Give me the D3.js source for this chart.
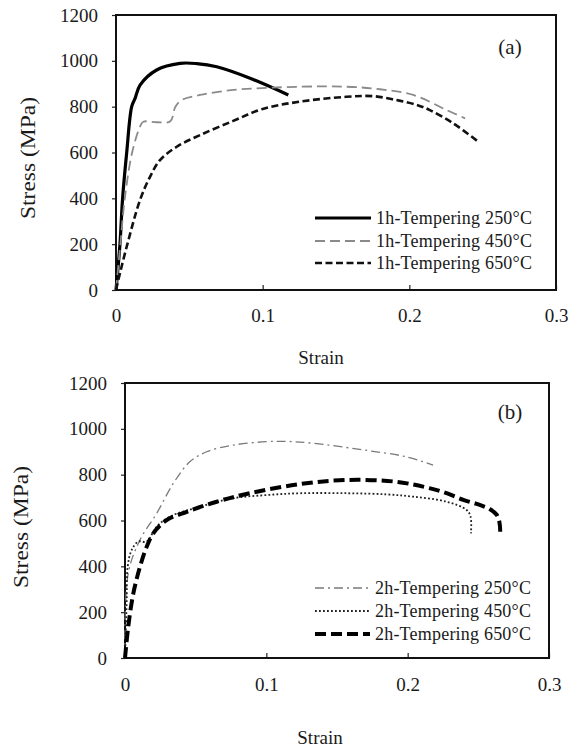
<!DOCTYPE html>
<html>
<head>
<meta charset="utf-8">
<script src="https://cdn.jsdelivr.net/npm/d3@7"></script>
<style>
  html, body { margin: 0; padding: 0; background: #fff; }
  svg { display: block; }
  text { font-family: "Liberation Serif", "Times New Roman", serif; fill: #1a1a1a; }
</style>
</head>
<body>
<svg id="chart" width="569" height="749"></svg>
<script>
// ---------- DATA ----------
const xTicks = [0, 0.1, 0.2, 0.3];
const yTicks = [0, 200, 400, 600, 800, 1000, 1200];

// Panel (a): 1h tempering
const strainA250 = [0, 0.0027, 0.0045, 0.0073, 0.0107, 0.013, 0.0164, 0.0277, 0.0436, 0.055, 0.0687, 0.0914, 0.1175];
const stressA250 = [0, 200, 400, 600, 800, 836, 894, 960, 989, 988, 974, 924, 851];

const strainA450 = [0, 0.003, 0.006, 0.011, 0.0164, 0.0186, 0.028, 0.037, 0.0405, 0.0448, 0.0573, 0.080, 0.1255, 0.157, 0.18, 0.2027, 0.2255, 0.238];
const stressA450 = [0, 200, 400, 600, 713, 734, 732, 736, 800, 829, 851, 873, 887, 887, 876, 851, 785, 749];

const strainA650 = [0, 0.0016, 0.0073, 0.0164, 0.0232, 0.030, 0.0414, 0.0573, 0.080, 0.1, 0.1255, 0.157, 0.175, 0.191, 0.205, 0.214, 0.23, 0.247];
const stressA650 = [0, 44, 189, 393, 494, 567, 625, 676, 738, 790, 822, 843, 846, 829, 808, 785, 727, 647];

const labelsA = ["1h-Tempering 250\u00B0C", "1h-Tempering 450\u00B0C", "1h-Tempering 650\u00B0C"];

// Panel (b): 2h tempering
const strainB250 = [0, 0.0023, 0.0106, 0.0224, 0.0342, 0.046, 0.0578, 0.0766, 0.1, 0.115, 0.133, 0.1686, 0.199, 0.218];
const stressB250 = [0, 370, 515, 631, 762, 857, 900, 929, 944, 945, 937, 908, 878, 842];

const strainB450 = [0, 0.0005, 0.0012, 0.0019, 0.0047, 0.0094, 0.0153, 0.0224, 0.0318, 0.053, 0.0766, 0.1, 0.124, 0.157, 0.185, 0.204, 0.2276, 0.2417, 0.2445, 0.2448];
const stressB450 = [0, 100, 250, 398, 471, 508, 508, 573, 617, 660, 697, 711, 719, 719, 714, 704, 682, 646, 617, 544];

const strainB650 = [0, 0.0023, 0.0059, 0.0106, 0.0154, 0.02, 0.0295, 0.0437, 0.0649, 0.0884, 0.124, 0.157, 0.192, 0.216, 0.228, 0.2394, 0.25, 0.258, 0.263, 0.265, 0.2655];
const stressB650 = [0, 137, 282, 398, 486, 544, 602, 638, 682, 719, 759, 777, 769, 740, 718, 690, 670, 650, 625, 590, 551];

const labelsB = ["2h-Tempering 250\u00B0C", "2h-Tempering 450\u00B0C", "2h-Tempering 650\u00B0C"];

// ---------- DRAW ----------
const svg = d3.select("#chart");
const SERIF = "'Liberation Serif', 'Times New Roman', serif";

function zip(xs, ys) { return xs.map((x, i) => [x, ys[i]]); }

function drawPanel(p) {
  const g = svg.append("g");
  const x = d3.scaleLinear().domain([0, 0.3]).range([p.left, p.right]);
  const y = d3.scaleLinear().domain([0, 1200]).range([p.bottom, p.top]);

  // y axis ticks (outside) + labels
  const yAxis = d3.axisLeft(y).tickValues(yTicks).tickSize(4).tickPadding(14).tickFormat(d3.format("d"));
  const ya = g.append("g").attr("transform", `translate(${p.left},0)`).call(yAxis);
  ya.attr("font-family", SERIF);
  ya.select(".domain").remove();
  ya.selectAll("line").attr("stroke", "#222").attr("stroke-width", 1.2);
  ya.selectAll("text").style("font-size", "19px").style("font-family", SERIF).attr("fill", "#1a1a1a");

  // x axis ticks (inside) + labels
  const xAxis = d3.axisBottom(x).tickValues(xTicks).tickSizeInner(-5).tickSizeOuter(0).tickPadding(0).tickFormat(d => d === 0 ? "0" : d3.format(".1f")(d));
  const xa = g.append("g").attr("transform", `translate(0,${p.bottom})`).call(xAxis);
  xa.attr("font-family", SERIF);
  xa.select(".domain").remove();
  xa.selectAll("line").attr("stroke", "#222").attr("stroke-width", 1.2);
  xa.selectAll("text").style("font-size", "19px").style("font-family", SERIF).attr("fill", "#1a1a1a")
    .attr("y", p.xLabelY - p.bottom).attr("dy", "0.35em");

  // frame
  g.append("rect").attr("x", p.left).attr("y", p.top)
    .attr("width", p.right - p.left).attr("height", p.bottom - p.top)
    .attr("fill", "none").attr("stroke", "#111").attr("stroke-width", 2);

  // curves
  const line = d3.line().x(d => x(d[0])).y(d => y(d[1])).curve(d3.curveCatmullRom.alpha(0.5));
  p.series.forEach(s => {
    g.append("path").datum(zip(s.xs, s.ys)).attr("d", line)
      .attr("fill", "none").attr("stroke", s.color).attr("stroke-width", s.width)
      .attr("stroke-dasharray", s.dash).attr("stroke-linecap", s.cap || "butt").attr("stroke-linejoin", "round");
  });

  // legend
  p.series.forEach((s, i) => {
    const ly = p.legendY[i];
    g.append("line").attr("x1", p.legX1).attr("x2", p.legX2).attr("y1", ly).attr("y2", ly)
      .attr("stroke", s.color).attr("stroke-width", s.width).attr("stroke-dasharray", s.dash)
      .attr("stroke-linecap", s.cap || "butt");
    g.append("text").attr("x", p.legX2 + 5).attr("y", ly).attr("dy", "0.35em")
      .style("font-family", SERIF)
      .style("font-size", "18px").attr("textLength", 156).attr("lengthAdjust", "spacing")
      .text(p.labels[i]);
  });

  // panel tag
  g.append("text").attr("x", p.tagX).attr("y", p.tagY).attr("dy", "0.35em").attr("text-anchor", "middle")
    .style("font-family", SERIF).style("font-size", "21px").text(p.tag);

  // axis titles
  g.append("text").attr("x", p.xTitleX).attr("y", p.xTitleY).attr("dy", "0.35em").attr("text-anchor", "middle")
    .style("font-family", SERIF).style("font-size", "19px").text("Strain");
  g.append("text").attr("transform", `translate(${p.yTitleX},${p.yTitleY}) rotate(-90)`)
    .attr("dy", "0.35em").attr("text-anchor", "middle")
    .style("font-family", SERIF)
    .style("font-size", "21px").attr("textLength", 122).attr("lengthAdjust", "spacingAndGlyphs")
    .text("Stress (MPa)");
}

drawPanel({
  left: 116, right: 556, top: 15, bottom: 290, xLabelY: 315,
  xTitleX: 321, xTitleY: 357, yTitleX: 28, yTitleY: 158,
  tag: "(a)", tagX: 510, tagY: 47,
  legX1: 315, legX2: 371, legendY: [218, 241, 263],
  labels: labelsA,
  series: [
    { xs: strainA250, ys: stressA250, color: "#000", width: 3.2, dash: null },
    { xs: strainA450, ys: stressA450, color: "#8a8a8a", width: 1.8, dash: "10,5" },
    { xs: strainA650, ys: stressA650, color: "#111", width: 2.6, dash: "7,3.5" }
  ]
});

drawPanel({
  left: 125, right: 549, top: 383, bottom: 658, xLabelY: 684,
  xTitleX: 320, xTitleY: 737, yTitleX: 21, yTitleY: 527,
  tag: "(b)", tagX: 510, tagY: 412,
  legX1: 315, legX2: 370, legendY: [588, 611, 634],
  labels: labelsB,
  series: [
    { xs: strainB250, ys: stressB250, color: "#7a7a7a", width: 1.3, dash: "9,4,2,4" },
    { xs: strainB450, ys: stressB450, color: "#222", width: 1.8, dash: "1.8,2.2" },
    { xs: strainB650, ys: stressB650, color: "#000", width: 4, dash: "11,5" }
  ]
});
</script>
</body>
</html>
